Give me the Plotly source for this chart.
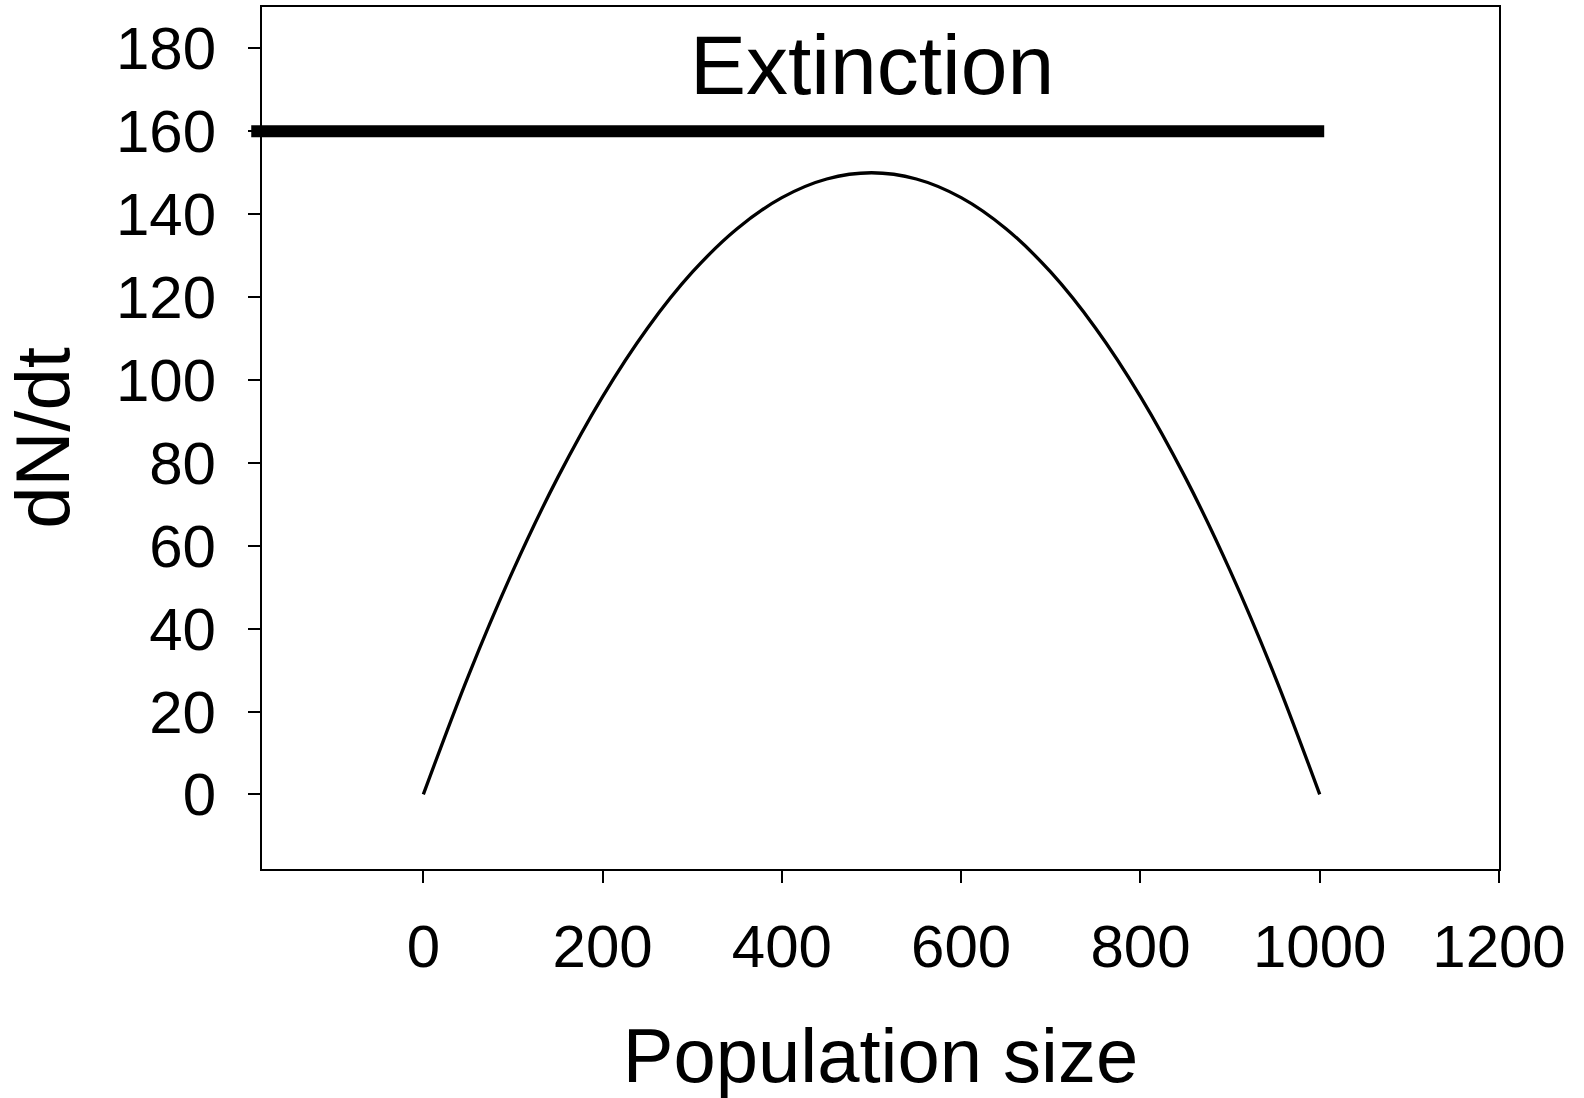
import plotly.graph_objects as go

# Curve values
pop_size = [0, 50, 100, 150, 200, 250, 300, 350, 400, 450, 500,
            550, 600, 650, 700, 750, 800, 850, 900, 950, 1000]
dndt = [0, 28.5, 54, 76.5, 96, 112.5, 126, 136.5, 144, 148.5, 150,
        148.5, 144, 136.5, 126, 112.5, 96, 76.5, 54, 28.5, 0]

# Extinction threshold line
extinction_level = 160
extinction_x = [-192, 1005]
extinction_label = "Extinction"

x_ticks = [0, 200, 400, 600, 800, 1000, 1200]
y_ticks = [0, 20, 40, 60, 80, 100, 120, 140, 160, 180]
x_range = [-180, 1200]
y_range = [-18, 190]

FONT = "Liberation Sans, Arial, sans-serif"

fig = go.Figure()
fig.add_trace(go.Scatter(x=pop_size, y=dndt, mode="lines",
                         line=dict(color="black", width=3.3, shape="spline"),
                         showlegend=False, hoverinfo="skip"))

def to_paper(v):
    return (v - x_range[0]) / (x_range[1] - x_range[0])

fig.add_shape(type="line", xref="paper", yref="y",
              x0=to_paper(extinction_x[0]), x1=to_paper(extinction_x[1]),
              y0=extinction_level, y1=extinction_level,
              line=dict(color="black", width=12), layer="above")

fig.add_annotation(x=500, y=176, xref="x", yref="y", text=extinction_label,
                   showarrow=False, font=dict(family=FONT, size=84, color="black"),
                   xanchor="center", yanchor="middle")

fig.update_layout(
    width=1584, height=1098,
    margin=dict(l=262, r=85, t=5, b=224),
    paper_bgcolor="white", plot_bgcolor="white",
    font=dict(family=FONT, color="black"),
)
fig.update_xaxes(range=x_range, tickvals=x_ticks, ticktext=[str(v) for v in x_ticks],
                 showgrid=False, zeroline=False, showline=True, linecolor="black",
                 linewidth=2, mirror=True, ticks="outside", ticklen=12, tickwidth=2,
                 tickcolor="black", tickfont=dict(family=FONT, size=60, color="black"),
                 ticklabelstandoff=12,
                 title=dict(text="Population size", font=dict(family=FONT, size=76, color="black"),
                            standoff=60))
fig.update_yaxes(range=y_range, tickvals=y_ticks, ticktext=[str(v) for v in y_ticks],
                 showgrid=False, zeroline=False, showline=True, linecolor="black",
                 linewidth=2, mirror=True, ticks="outside", ticklen=12, tickwidth=2,
                 tickcolor="black", tickfont=dict(family=FONT, size=60, color="black"),
                 ticklabelstandoff=20,
                 title=dict(text="dN/dt", font=dict(family=FONT, size=76, color="black"),
                            standoff=36))

fig.write_html("out.html", config={"displayModeBar": False},
               post_script="document.body.style.margin='0';document.body.style.overflow='hidden';")
